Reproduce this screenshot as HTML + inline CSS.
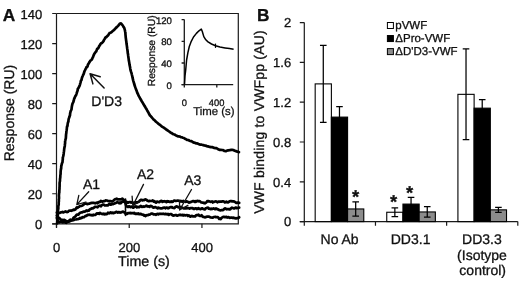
<!DOCTYPE html>
<html><head><meta charset="utf-8"><title>Figure</title>
<style>html,body{margin:0;padding:0;background:#fff}body{width:520px;height:282px;overflow:hidden;position:relative;font-family:"Liberation Sans",sans-serif}</style>
</head><body>
<svg width="520" height="282" viewBox="0 0 520 282" style="position:absolute;left:0;top:0;font-family:'Liberation Sans',sans-serif;text-rendering:geometricPrecision;filter:grayscale(1)" fill="#111">
<style>text{stroke:#111;stroke-width:.3px;stroke-linejoin:round}</style>
<rect width="520" height="282" fill="#fff"/>
<g stroke="#1a1a1a" stroke-width="1.2" fill="none">
<path d="M56.5 13.5 H238.3 V223.80 H52.2 M56.5 13.5 V227.6"/>
<path d="M52.2 223.80 H56.5 M52.2 193.76 H56.5 M52.2 163.71 H56.5 M52.2 133.67 H56.5 M52.2 103.63 H56.5 M52.2 73.59 H56.5 M52.2 43.54 H56.5 M52.2 13.50 H56.5 "/>
<path d="M56.50 223.80 V228 M129.22 223.80 V228 M201.94 223.80 V228 "/>
</g>
<g font-size="13" text-anchor="end">
<text x="42.3" y="229.00">0</text>
<text x="42.3" y="198.96">20</text>
<text x="42.3" y="168.91">40</text>
<text x="42.3" y="138.87">60</text>
<text x="42.3" y="108.83">80</text>
<text x="42.3" y="78.79">100</text>
<text x="42.3" y="48.74">120</text>
<text x="42.3" y="18.70">140</text>
</g>
<g font-size="13" text-anchor="middle">
<text x="56.70" y="252">0</text>
<text x="129.42" y="252">200</text>
<text x="202.14" y="252">400</text>
</g>
<text x="118" y="265.6" font-size="14.3">Time (s)</text>
<text transform="translate(13.8 161.3) rotate(-90)" font-size="14">Response (RU)</text>
<text x="2.7" y="21" font-size="17.3" font-weight="bold">A</text>
<g stroke="#000" fill="none" stroke-linejoin="round" stroke-linecap="round">
<path stroke-width="2.7" d="M57.2 223.4 L57.2 222.0 L57.4 221.2 L57.4 219.7 L57.5 218.8 L57.6 217.6 L57.6 216.2 L57.8 215.3 L57.8 213.8 L57.9 212.9 L57.9 211.6 L58.0 210.4 L58.1 209.5 L58.3 208.8 L58.3 207.3 L58.3 206.1 L58.5 205.3 L58.7 204.6 L58.7 203.4 L58.7 202.0 L58.9 201.2 L58.8 199.4 L59.0 198.6 L59.0 197.1 L58.9 195.6 L59.0 194.3 L59.1 193.2 L59.3 192.5 L59.3 190.9 L59.4 189.9 L59.5 188.9 L59.5 187.5 L59.6 186.4 L59.6 184.8 L59.6 183.4 L59.7 182.2 L59.9 181.5 L60.0 180.3 L60.0 179.0 L60.2 178.0 L60.3 176.8 L60.3 175.5 L60.5 174.7 L60.6 173.6 L60.6 172.1 L60.7 171.0 L60.8 169.9 L61.0 169.2 L61.2 168.1 L61.2 166.6 L61.4 165.9 L61.7 164.2 L62.1 163.0 L62.5 162.2 L62.6 160.5 L62.8 159.3 L62.8 157.6 L63.1 156.7 L63.4 155.7 L63.5 154.6 L63.7 153.7 L63.8 152.2 L64.0 151.2 L64.1 150.1 L64.2 149.0 L64.4 147.8 L64.6 146.9 L64.8 145.9 L64.9 144.4 L65.1 143.2 L65.1 141.4 L65.3 140.5 L65.5 139.4 L65.8 138.5 L65.9 137.3 L66.0 135.6 L66.1 134.2 L66.3 133.1 L66.4 131.4 L66.6 130.4 L66.8 129.0 L66.9 127.7 L67.1 126.3 L67.5 125.8 L67.6 124.4 L67.8 123.2 L68.1 122.2 L68.4 121.6 L68.5 120.0 L68.7 119.0 L69.0 118.1 L69.3 117.3 L69.6 116.3 L70.0 115.2 L70.1 113.6 L70.4 112.3 L70.7 111.0 L71.1 110.3 L71.5 109.4 L71.7 107.6 L71.9 106.2 L72.2 104.9 L72.5 103.7 L72.9 102.8 L73.4 101.8 L73.8 100.4 L74.1 98.9 L74.6 98.0 L75.0 96.9 L75.5 95.9 L76.0 95.2 L76.4 94.1 L76.8 92.8 L77.2 91.6 L77.6 90.5 L77.8 88.9 L78.4 88.2 L78.9 87.2 L79.4 86.2 L79.8 85.1 L80.2 83.6 L80.6 82.3 L80.9 80.8 L81.5 79.9 L81.8 78.4 L82.2 77.1 L82.7 76.0 L83.2 74.8 L83.7 73.8 L84.1 72.5 L84.5 71.2 L85.0 70.3 L85.4 69.3 L86.0 68.5 L86.4 67.3 L87.1 67.0 L87.6 66.1 L87.9 64.7 L88.5 63.7 L89.1 62.8 L89.7 61.8 L90.3 60.7 L91.0 60.3 L91.8 59.6 L92.4 58.2 L93.1 56.9 L93.6 55.4 L94.2 54.1 L94.9 53.1 L95.5 52.1 L96.2 51.5 L96.7 50.1 L97.2 48.7 L98.0 48.5 L98.6 47.5 L99.1 46.2 L99.8 45.4 L100.4 44.1 L101.1 43.3 L102.0 42.9 L102.7 42.1 L103.5 41.1 L104.1 39.7 L104.8 38.7 L105.5 37.5 L106.4 37.0 L107.2 36.1 L108.1 35.4 L108.8 34.2 L109.5 33.1 L110.4 32.7 L111.4 32.2 L112.2 31.5 L113.0 30.8 L113.9 30.1 L114.7 29.3 L115.9 27.9 L117.1 26.9 L118.1 25.9 L119.1 24.7 L119.9 23.7 L121.0 23.6 L121.0 23.4 L121.8 24.3 L122.8 25.5 L123.6 27.1 L124.3 28.1 L124.7 29.5 L125.0 30.8 L125.2 32.0 L125.4 32.7 L125.4 33.7 L125.5 34.8 L125.6 35.9 L125.7 37.1 L125.9 38.7 L126.1 40.2 L126.3 41.5 L126.4 42.4 L126.5 43.5 L126.7 44.7 L126.8 45.4 L127.0 46.9 L127.2 48.5 L127.4 49.8 L127.6 51.2 L127.7 52.3 L127.8 53.3 L128.1 54.8 L128.2 55.9 L128.4 57.3 L128.6 58.6 L128.7 59.4 L128.8 60.4 L129.1 61.8 L129.3 62.9 L129.4 63.7 L129.5 64.6 L129.7 65.6 L130.1 67.4 L130.3 68.9 L130.5 69.9 L130.9 71.4 L131.4 72.8 L131.7 73.9 L131.9 74.8 L132.2 76.0 L132.4 76.9 L132.6 77.9 L133.0 79.6 L133.3 80.8 L133.6 81.8 L134.0 83.2 L134.2 84.0 L134.6 85.3 L135.0 86.5 L135.3 87.2 L135.6 88.2 L136.0 89.2 L136.4 90.3 L136.9 91.6 L137.2 92.6 L137.7 93.7 L138.2 94.7 L139.0 96.4 L139.6 97.4 L140.2 98.5 L140.9 99.7 L141.6 101.0 L142.2 101.9 L142.9 103.2 L143.4 104.1 L144.0 105.0 L144.5 105.9 L145.0 106.6 L145.6 107.7 L146.1 108.5 L146.6 109.3 L147.3 110.8 L147.8 111.5 L148.6 112.9 L149.3 114.3 L150.0 115.5 L150.9 116.3 L151.8 117.4 L152.7 118.5 L153.7 119.7 L154.5 120.2 L155.5 121.3 L156.3 122.0 L157.2 122.6 L158.2 123.6 L159.2 124.3 L160.1 124.9 L161.0 125.8 L162.0 126.6 L162.8 127.1 L163.8 127.7 L164.7 128.3 L165.6 128.9 L166.5 129.7 L167.4 130.2 L168.3 130.9 L169.2 131.5 L170.3 132.4 L171.4 133.0 L172.5 133.7 L173.6 134.3 L174.5 134.5 L175.5 135.1 L176.7 135.8 L177.8 136.3 L178.7 136.3 L179.7 136.5 L180.8 137.1 L181.8 137.3 L182.9 137.7 L183.9 138.0 L185.1 138.8 L186.2 139.4 L187.3 140.0 L188.3 140.0 L189.4 140.7 L190.5 141.1 L191.5 141.2 L192.6 142.0 L193.8 142.7 L194.7 142.7 L195.9 143.3 L196.9 143.4 L197.9 143.6 L199.1 144.3 L200.2 144.6 L201.1 144.5 L202.1 144.8 L203.2 145.1 L204.3 145.4 L205.3 145.6 L206.4 145.9 L207.5 146.5 L208.5 146.4 L209.7 146.9 L210.9 147.1 L212.0 147.1 L213.1 147.4 L214.3 147.9 L215.5 148.2 L216.5 148.2 L217.7 149.0 L218.8 149.5 L219.9 150.0 L220.8 149.8 L221.8 150.0 L223.1 150.2 L224.5 151.0 L225.8 151.2 L227.0 150.6 L228.3 150.3 L229.7 150.2 L231.0 149.9 L232.2 149.9 L233.4 150.0 L234.8 150.8 L235.8 151.1 L236.9 151.6 L237.9 151.6 L239.0 152.2"/>
<path stroke-width="2.7" d="M56.8 212.7 L57.6 212.8 L58.4 212.9 L59.2 212.8 L60.0 212.8 L60.8 212.4 L61.6 212.2 L62.4 211.9 L63.2 212.5 L64.0 212.1 L64.8 211.7 L65.6 211.4 L66.4 212.0 L67.2 212.1 L68.0 211.7 L68.8 210.9 L69.6 210.7 L70.4 210.6 L71.2 210.8 L72.0 210.4 L72.8 210.3 L73.6 209.6 L74.4 209.9 L75.2 209.6 L76.0 208.5 L76.8 207.4 L77.6 207.8 L78.4 207.0 L79.2 206.7 L80.0 206.0 L80.8 206.0 L81.6 205.9 L82.4 205.5 L83.2 204.6 L84.0 204.4 L84.8 203.5 L85.6 203.6 L86.4 203.6 L87.2 204.1 L88.0 203.9 L88.8 203.7 L89.6 203.7 L90.4 203.2 L91.2 203.1 L92.0 202.8 L92.8 202.8 L93.6 202.8 L94.4 203.0 L95.2 203.4 L96.0 203.0 L96.8 202.6 L97.6 203.2 L98.4 202.1 L99.2 202.1 L100.0 201.9 L100.8 200.9 L101.6 201.5 L102.4 201.7 L103.2 201.3 L104.0 201.1 L104.8 201.2 L105.6 200.3 L106.4 200.5 L107.2 200.6 L108.0 201.0 L108.8 201.1 L109.6 201.2 L110.4 201.0 L111.2 201.4 L112.0 201.3 L112.8 201.3 L113.6 200.5 L114.4 199.6 L115.2 199.2 L116.0 199.1 L116.8 198.7 L117.6 199.5 L118.4 199.4 L119.2 199.4 L120.0 199.4 L120.8 199.4 L121.6 199.2 L122.4 198.6 L123.2 199.6 L124.0 200.1 L124.8 200.0 L125.6 201.6 L126.4 202.8 L127.2 202.1 L128.0 202.7 L128.8 202.3 L129.6 202.0 L130.4 202.1 L131.2 202.7 L132.0 202.2 L132.8 202.7 L133.6 203.2 L134.4 202.7 L135.2 202.4 L136.0 202.4 L136.8 202.4 L137.6 202.3 L138.4 201.9 L139.2 201.5 L140.0 200.4 L140.8 199.9 L141.6 199.8 L142.4 200.4 L143.2 200.1 L144.0 200.2 L144.8 199.5 L145.6 199.4 L146.4 199.7 L147.2 200.5 L148.0 200.9 L148.8 201.2 L149.6 200.8 L150.4 201.0 L151.2 201.0 L152.0 201.0 L152.8 200.5 L153.6 201.5 L154.4 201.1 L155.2 202.1 L156.0 202.6 L156.8 201.6 L157.6 201.6 L158.4 202.0 L159.2 202.2 L160.0 201.5 L160.8 201.0 L161.6 200.8 L162.4 201.8 L163.2 201.3 L164.0 201.6 L164.8 201.2 L165.6 201.5 L166.4 202.1 L167.2 201.1 L168.0 201.6 L168.8 201.4 L169.6 201.9 L170.4 201.9 L171.2 201.3 L172.0 202.0 L172.8 201.7 L173.6 200.9 L174.4 200.5 L175.2 200.9 L176.0 200.9 L176.8 200.7 L177.6 200.5 L178.4 200.7 L179.2 200.8 L180.0 201.6 L180.8 200.9 L181.6 201.5 L182.4 201.8 L183.2 200.9 L184.0 201.5 L184.8 201.5 L185.6 201.9 L186.4 201.4 L187.2 201.6 L188.0 201.8 L188.8 202.7 L189.6 202.5 L190.4 202.0 L191.2 201.9 L192.0 201.6 L192.8 201.1 L193.6 201.0 L194.4 201.8 L195.2 201.2 L196.0 201.8 L196.8 201.1 L197.6 200.9 L198.4 201.3 L199.2 201.1 L200.0 201.3 L200.8 202.2 L201.6 202.5 L202.4 202.6 L203.2 202.6 L204.0 203.1 L204.8 203.3 L205.6 202.7 L206.4 202.4 L207.2 201.1 L208.0 201.4 L208.8 201.1 L209.6 201.5 L210.4 201.8 L211.2 201.7 L212.0 201.4 L212.8 202.5 L213.6 201.8 L214.4 201.8 L215.2 201.5 L216.0 201.3 L216.8 201.8 L217.6 202.3 L218.4 201.6 L219.2 201.8 L220.0 201.5 L220.8 201.7 L221.6 201.6 L222.4 201.4 L223.2 201.4 L224.0 201.5 L224.8 202.5 L225.6 202.3 L226.4 201.7 L227.2 202.3 L228.0 202.5 L228.8 201.9 L229.6 201.3 L230.4 201.2 L231.2 201.1 L232.0 201.4 L232.8 201.2 L233.6 201.4 L234.4 201.6 L235.2 202.1 L236.0 202.8 L236.8 202.9 L237.6 202.6 L238.4 202.6 L239.2 202.8"/>
<path stroke-width="2.7" d="M56.8 215.5 L57.6 217.0 L58.4 217.7 L59.2 217.9 L60.0 218.8 L60.8 219.6 L61.6 219.8 L62.4 219.8 L63.2 220.3 L64.0 219.8 L64.8 220.2 L65.6 220.7 L66.4 221.6 L67.2 221.5 L68.0 221.7 L68.8 221.1 L69.6 220.3 L70.4 219.7 L71.2 220.3 L72.0 220.0 L72.8 219.0 L73.6 217.7 L74.4 217.2 L75.2 216.7 L76.0 215.6 L76.8 214.6 L77.6 214.6 L78.4 214.7 L79.2 213.7 L80.0 212.8 L80.8 212.6 L81.6 212.3 L82.4 212.4 L83.2 211.6 L84.0 211.8 L84.8 211.6 L85.6 211.1 L86.4 210.4 L87.2 211.1 L88.0 210.4 L88.8 210.6 L89.6 209.6 L90.4 208.9 L91.2 208.9 L92.0 208.1 L92.8 208.5 L93.6 207.9 L94.4 207.2 L95.2 206.8 L96.0 206.8 L96.8 207.0 L97.6 207.3 L98.4 206.2 L99.2 206.0 L100.0 205.6 L100.8 206.3 L101.6 205.3 L102.4 204.8 L103.2 204.5 L104.0 204.7 L104.8 205.4 L105.6 205.5 L106.4 205.3 L107.2 205.4 L108.0 205.3 L108.8 204.4 L109.6 203.8 L110.4 204.6 L111.2 204.7 L112.0 203.8 L112.8 204.2 L113.6 203.8 L114.4 203.6 L115.2 203.3 L116.0 202.8 L116.8 202.3 L117.6 202.4 L118.4 202.5 L119.2 203.3 L120.0 202.5 L120.8 203.2 L121.6 202.2 L122.4 201.7 L123.2 201.8 L124.0 201.6 L124.8 201.0 L125.6 203.9 L126.4 206.5 L127.2 206.4 L128.0 207.1 L128.8 206.3 L129.6 206.3 L130.4 207.2 L131.2 206.6 L132.0 206.9 L132.8 207.6 L133.6 207.7 L134.4 206.8 L135.2 206.5 L136.0 206.4 L136.8 207.4 L137.6 206.8 L138.4 207.1 L139.2 207.2 L140.0 206.4 L140.8 206.0 L141.6 206.8 L142.4 206.8 L143.2 206.4 L144.0 206.8 L144.8 206.5 L145.6 206.3 L146.4 205.6 L147.2 206.2 L148.0 206.6 L148.8 206.3 L149.6 206.8 L150.4 205.9 L151.2 206.0 L152.0 206.4 L152.8 207.3 L153.6 207.7 L154.4 207.3 L155.2 207.1 L156.0 207.4 L156.8 207.7 L157.6 208.3 L158.4 207.6 L159.2 208.1 L160.0 208.2 L160.8 208.4 L161.6 208.4 L162.4 208.2 L163.2 207.8 L164.0 207.7 L164.8 207.7 L165.6 208.3 L166.4 207.6 L167.2 207.6 L168.0 208.4 L168.8 208.0 L169.6 207.5 L170.4 207.1 L171.2 207.3 L172.0 207.0 L172.8 207.7 L173.6 208.0 L174.4 208.1 L175.2 207.2 L176.0 206.6 L176.8 206.4 L177.6 206.8 L178.4 207.3 L179.2 207.2 L180.0 206.9 L180.8 207.0 L181.6 207.4 L182.4 207.8 L183.2 208.1 L184.0 208.5 L184.8 208.4 L185.6 207.7 L186.4 208.4 L187.2 208.0 L188.0 208.3 L188.8 208.1 L189.6 208.6 L190.4 208.1 L191.2 208.1 L192.0 208.2 L192.8 208.1 L193.6 209.0 L194.4 208.9 L195.2 208.4 L196.0 208.3 L196.8 209.1 L197.6 208.7 L198.4 208.2 L199.2 208.8 L200.0 208.8 L200.8 209.2 L201.6 208.3 L202.4 208.4 L203.2 209.0 L204.0 209.3 L204.8 209.5 L205.6 208.4 L206.4 208.2 L207.2 207.8 L208.0 207.7 L208.8 208.7 L209.6 208.7 L210.4 209.1 L211.2 208.6 L212.0 209.1 L212.8 208.8 L213.6 208.3 L214.4 208.8 L215.2 209.2 L216.0 208.4 L216.8 208.8 L217.6 209.4 L218.4 209.4 L219.2 210.1 L220.0 210.3 L220.8 210.3 L221.6 210.1 L222.4 210.2 L223.2 210.0 L224.0 209.1 L224.8 208.4 L225.6 208.6 L226.4 209.3 L227.2 209.0 L228.0 209.1 L228.8 209.0 L229.6 209.5 L230.4 209.2 L231.2 208.2 L232.0 207.7 L232.8 208.0 L233.6 208.4 L234.4 208.5 L235.2 207.8 L236.0 207.5 L236.8 208.2 L237.6 208.0 L238.4 207.8 L239.2 207.7"/>
<path stroke-width="2.7" d="M56.8 217.9 L57.6 220.2 L58.4 221.9 L59.2 222.3 L60.0 221.7 L60.8 221.7 L61.6 222.0 L62.4 222.3 L63.2 222.3 L64.0 222.0 L64.8 222.0 L65.6 222.6 L66.4 222.8 L67.2 221.5 L68.0 221.5 L68.8 221.6 L69.6 220.6 L70.4 221.1 L71.2 220.3 L72.0 220.4 L72.8 220.2 L73.6 220.1 L74.4 219.6 L75.2 219.5 L76.0 219.5 L76.8 219.2 L77.6 219.2 L78.4 218.9 L79.2 218.7 L80.0 217.9 L80.8 218.3 L81.6 218.0 L82.4 217.2 L83.2 217.3 L84.0 217.1 L84.8 216.5 L85.6 215.9 L86.4 215.8 L87.2 215.2 L88.0 214.8 L88.8 215.0 L89.6 214.6 L90.4 215.0 L91.2 215.3 L92.0 214.9 L92.8 215.4 L93.6 214.7 L94.4 215.0 L95.2 214.9 L96.0 214.4 L96.8 213.4 L97.6 213.6 L98.4 213.4 L99.2 213.9 L100.0 212.9 L100.8 213.4 L101.6 213.8 L102.4 213.9 L103.2 214.2 L104.0 213.7 L104.8 214.4 L105.6 213.9 L106.4 214.1 L107.2 213.9 L108.0 212.7 L108.8 213.0 L109.6 213.3 L110.4 212.4 L111.2 212.5 L112.0 213.1 L112.8 212.6 L113.6 213.2 L114.4 212.5 L115.2 212.7 L116.0 211.8 L116.8 211.9 L117.6 212.6 L118.4 212.1 L119.2 212.2 L120.0 212.6 L120.8 212.5 L121.6 212.0 L122.4 211.9 L123.2 211.6 L124.0 212.4 L124.8 212.3 L125.6 213.9 L126.4 213.7 L127.2 213.9 L128.0 213.0 L128.8 213.1 L129.6 213.2 L130.4 212.8 L131.2 213.3 L132.0 213.1 L132.8 213.0 L133.6 213.4 L134.4 212.8 L135.2 213.8 L136.0 213.9 L136.8 213.6 L137.6 213.9 L138.4 213.4 L139.2 214.2 L140.0 213.9 L140.8 213.8 L141.6 214.5 L142.4 214.6 L143.2 214.6 L144.0 215.5 L144.8 215.1 L145.6 216.0 L146.4 215.3 L147.2 215.1 L148.0 215.2 L148.8 214.7 L149.6 214.6 L150.4 214.2 L151.2 213.7 L152.0 213.6 L152.8 213.8 L153.6 214.4 L154.4 214.3 L155.2 214.4 L156.0 214.8 L156.8 214.0 L157.6 213.9 L158.4 214.4 L159.2 213.9 L160.0 213.7 L160.8 214.0 L161.6 213.8 L162.4 214.0 L163.2 213.7 L164.0 214.0 L164.8 214.2 L165.6 213.8 L166.4 214.2 L167.2 214.3 L168.0 213.9 L168.8 214.8 L169.6 214.3 L170.4 214.1 L171.2 214.0 L172.0 214.8 L172.8 215.4 L173.6 215.6 L174.4 215.3 L175.2 215.2 L176.0 214.9 L176.8 215.6 L177.6 215.7 L178.4 215.2 L179.2 215.1 L180.0 214.7 L180.8 215.2 L181.6 215.2 L182.4 214.8 L183.2 215.6 L184.0 214.9 L184.8 215.3 L185.6 215.3 L186.4 215.2 L187.2 215.0 L188.0 216.0 L188.8 215.4 L189.6 215.9 L190.4 216.7 L191.2 216.0 L192.0 215.9 L192.8 216.4 L193.6 216.4 L194.4 216.3 L195.2 216.3 L196.0 215.3 L196.8 215.1 L197.6 215.1 L198.4 214.7 L199.2 215.7 L200.0 215.9 L200.8 216.0 L201.6 215.2 L202.4 216.3 L203.2 216.9 L204.0 217.0 L204.8 217.4 L205.6 217.2 L206.4 216.8 L207.2 216.6 L208.0 216.7 L208.8 216.6 L209.6 216.9 L210.4 217.4 L211.2 217.5 L212.0 217.6 L212.8 217.6 L213.6 217.0 L214.4 217.0 L215.2 216.8 L216.0 217.2 L216.8 217.1 L217.6 217.0 L218.4 217.8 L219.2 218.9 L220.0 218.6 L220.8 219.1 L221.6 217.8 L222.4 217.3 L223.2 216.8 L224.0 216.9 L224.8 217.1 L225.6 217.1 L226.4 216.8 L227.2 217.6 L228.0 217.3 L228.8 217.1 L229.6 217.9 L230.4 217.7 L231.2 217.7 L232.0 217.6 L232.8 218.0 L233.6 217.6 L234.4 218.1 L235.2 218.2 L236.0 218.5 L236.8 218.1 L237.6 218.2 L238.4 217.9 L239.2 217.3"/>
<path stroke-width="1.6" d="M125.5 199 V215.4"/>
</g>
<g font-size="14">
<text x="91.3" y="105.8">D&#39;D3</text>
<text x="83.0" y="188.7">A1</text>
<text x="136.9" y="179.1">A2</text>
<text x="184.2" y="184.6">A3</text>
</g>
<g stroke="#111" stroke-width="1.2" fill="none" stroke-linecap="round">
<path stroke-width="1.5" d="M104.1 88.0 L90.1 73.8 M90.1 73.8 L100.2 76.8 M90.1 73.8 L92.9 83.9 "/>
<path stroke-width="1.3" d="M88.7 191.8 L76.8 204.6 M76.8 204.6 L78.8 195.3 M76.8 204.6 L85.9 202.0 M143.5 184.4 L132.8 205.7 M132.8 205.7 L132.1 196.2 M132.8 205.7 L140.8 200.6 M191.5 189.5 L179.6 210.0 M179.6 210.0 L179.5 200.5 M179.6 210.0 L187.9 205.4 "/>
</g>
<g stroke="#1a1a1a" stroke-width="1.3" fill="none">
<path d="M184.3 19.6 V84.7 M181.6 84.7 H233.2"/>
<path d="M181.6 84.70 H184.3 M181.6 63.00 H184.3 M181.6 41.30 H184.3 M181.6 19.60 H184.3 M184.30 84.7 V87.4 M216.80 84.7 V87.4 "/>
</g>
<g font-size="9.6" text-anchor="end">
<text x="171.9" y="88.80">0</text>
<text x="171.9" y="67.10">40</text>
<text x="171.9" y="45.40">80</text>
<text x="171.9" y="23.70">120</text>
</g>
<g font-size="9.3" text-anchor="middle">
<text x="184.3" y="106.2">0</text><text x="216.6" y="106.2">400</text>
</g>
<text x="193.2" y="114.7" font-size="11.4">Time (s)</text>
<text transform="translate(154.6 86.3) rotate(-90)" font-size="10.3">Response (RU)</text>
<path d="M184.5 84.5 L185.0 76.0 L185.7 70.0 L186.6 60.0 L187.9 52.6 L189.3 46.5 L191.0 41.9 L193.5 37.0 L196.4 33.4 L199.0 30.8 L201.3 29.1 L202.3 31.5 L203.8 36.6 L205.8 39.8 L208.0 41.9 L211.5 44.0 L215.5 45.7 L220.0 47.0 L225.1 47.9 L229.5 48.6 L233.6 49.2" stroke="#000" stroke-width="1.5" fill="none" stroke-linejoin="round"/>
<path d="M215.5 43.6 V47.9" stroke="#000" stroke-width="1.2"/>
<g stroke="#1a1a1a" stroke-width="1.2" fill="none">
<path d="M304.3 22.60 V225.8 M299.8 221.60 H517.8"/>
<path d="M299.8 221.60 H304.3 M299.8 181.80 H304.3 M299.8 142.00 H304.3 M299.8 102.20 H304.3 M299.8 62.40 H304.3 M299.8 22.60 H304.3 M375.47 221.60 V225.8 M446.63 221.60 V225.8 M517.80 221.60 V225.8 "/>
</g>
<g font-size="13" text-anchor="end">
<text x="291.2" y="226.30">0</text>
<text x="291.2" y="186.50">0.4</text>
<text x="291.2" y="146.70">0.8</text>
<text x="291.2" y="106.90">1.2</text>
<text x="291.2" y="67.10">1.6</text>
<text x="291.2" y="27.30">2</text>
</g>
<rect x="315.18" y="83.89" width="16.20" height="137.71" fill="#fff" stroke="#000" stroke-width="1.1"/>
<rect x="331.38" y="117.12" width="16.20" height="104.48" fill="#000" stroke="#000" stroke-width="1.1"/>
<rect x="347.58" y="208.96" width="16.20" height="12.64" fill="#8c8c8c" stroke="#000" stroke-width="1.1"/>
<rect x="386.75" y="212.25" width="16.20" height="9.35" fill="#fff" stroke="#000" stroke-width="1.1"/>
<rect x="402.95" y="204.09" width="16.20" height="17.51" fill="#000" stroke="#000" stroke-width="1.1"/>
<rect x="419.15" y="211.95" width="16.20" height="9.65" fill="#8c8c8c" stroke="#000" stroke-width="1.1"/>
<rect x="457.92" y="94.34" width="16.20" height="127.26" fill="#fff" stroke="#000" stroke-width="1.1"/>
<rect x="474.12" y="108.17" width="16.20" height="113.43" fill="#000" stroke="#000" stroke-width="1.1"/>
<rect x="490.32" y="209.86" width="16.20" height="11.74" fill="#8c8c8c" stroke="#000" stroke-width="1.1"/>
<path d="M323.28 45.39 V122.40 M319.98 45.39 h6.6 M319.98 122.40 h6.6" stroke="#000" stroke-width="1.25" fill="none"/>
<path d="M339.48 106.68 V127.57 M336.18 106.68 h6.6 M336.18 127.57 h6.6" stroke="#000" stroke-width="1.25" fill="none"/>
<path d="M355.68 201.90 V216.03 M352.38 201.90 h6.6 M352.38 216.03 h6.6" stroke="#000" stroke-width="1.25" fill="none"/>
<path d="M394.85 207.77 V216.72 M391.55 207.77 h6.6 M391.55 216.72 h6.6" stroke="#000" stroke-width="1.25" fill="none"/>
<path d="M411.05 197.32 V210.85 M407.75 197.32 h6.6 M407.75 210.85 h6.6" stroke="#000" stroke-width="1.25" fill="none"/>
<path d="M427.25 206.67 V217.22 M423.95 206.67 h6.6 M423.95 217.22 h6.6" stroke="#000" stroke-width="1.25" fill="none"/>
<path d="M466.02 48.97 V139.71 M462.72 48.97 h6.6 M462.72 139.71 h6.6" stroke="#000" stroke-width="1.25" fill="none"/>
<path d="M482.22 99.61 V116.73 M478.92 99.61 h6.6 M478.92 116.73 h6.6" stroke="#000" stroke-width="1.25" fill="none"/>
<path d="M498.42 207.47 V212.25 M495.12 207.47 h6.6 M495.12 212.25 h6.6" stroke="#000" stroke-width="1.25" fill="none"/>
<g font-size="18.5" font-weight="bold" text-anchor="middle">
<text x="355.6" y="202.8">*</text>
<text x="393.7" y="207.7">*</text>
<text x="409.7" y="199.2">*</text>
</g>
<g font-size="14" text-anchor="middle">
<text x="339.6" y="243.7">No Ab</text>
<text x="410.6" y="243.7">DD3.1</text>
<text x="481.9" y="243.7">DD3.3</text>
<text x="482" y="259.5">(Isotype</text>
<text x="482.7" y="274.7">control)</text>
</g>
<text transform="translate(264.0 213.8) rotate(-90)" font-size="14" textLength="183.5" lengthAdjust="spacing">VWF binding to VWFpp (AU)</text>
<text x="257.1" y="20.9" font-size="17.3" font-weight="bold">B</text>
<rect x="387.4" y="22.50" width="6" height="6" fill="#fff" stroke="#000" stroke-width="1"/>
<text x="395.3" y="28.80" font-size="11.5">pVWF</text>
<rect x="387.4" y="35.55" width="6" height="6" fill="#000" stroke="#000" stroke-width="1"/>
<text x="395.3" y="41.85" font-size="11.5">ΔPro-VWF</text>
<rect x="387.4" y="48.60" width="6" height="6" fill="#8c8c8c" stroke="#000" stroke-width="1"/>
<text x="395.3" y="54.90" font-size="11.5">ΔD&#39;D3-VWF</text>
</svg>
</body></html>
